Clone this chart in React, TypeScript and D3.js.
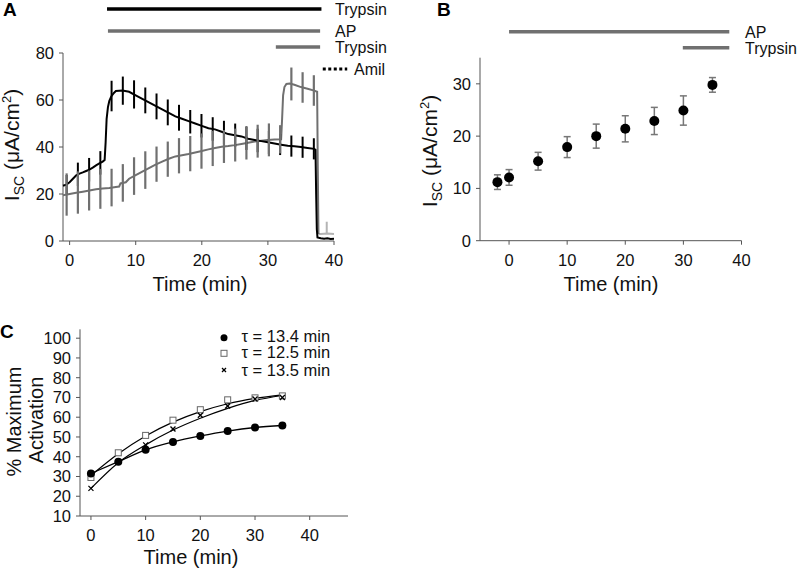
import React from 'react';
import * as d3 from 'd3';

const FONT = "'Liberation Sans', Arial, Helvetica, sans-serif";
const BLACK = '#000';
const GRAY = '#707070';
const LIGHT = '#b4b4b4';
const AXIS = '#555';

// ---------- Panel A data ----------
const blackT = [-1, -0.5, 0, 0.5, 1, 1.5, 2, 2.5, 3, 3.5, 4, 4.5, 5, 5.3, 5.45, 5.6, 5.8, 6.0, 6.3, 6.7, 7,
  8, 9, 10, 11, 12, 13, 14, 15, 16, 17, 18, 19, 20, 21, 22, 23, 24, 25, 26, 27, 28, 29, 30, 31, 32, 33, 34, 35, 36, 37,
  37.2, 37.3, 37.4, 37.5, 38, 38.5, 39, 39.5, 40];
const blackV = [23.5, 24, 25, 26.5, 28, 28.7, 29.2, 29.8, 30.4, 31.2, 32.2, 33, 33.8, 34.5, 42, 52, 57, 59.5, 61.5, 63, 63.8,
  64, 63.5, 62, 60.5, 59, 57.5, 56, 54.5, 53, 52, 51, 50, 49, 48, 47.5, 46.5, 45.5, 45, 44.5, 43.5, 43, 42.5, 42, 41.5, 41, 40.5, 40.3, 40, 39.6, 39.2,
  38.8, 20, 5, 1.5, 1.2, 1, 1.2, 0.9, 1];

const grayT = [-1, 0, 1, 2, 3, 4, 5, 6, 7, 7.5, 7.7, 8.5, 9,
  10, 11, 12, 13, 14, 15, 16, 17, 18, 19, 20, 21, 22, 23, 24, 25, 26, 27, 28, 29, 30, 31, 32,
  32.15, 32.3, 32.5, 32.8, 33.3, 34, 35, 36, 37, 37.45, 37.55, 37.65];
const grayV = [19.5, 20, 20.5, 21, 21.5, 22, 22.3, 22.6, 23, 23.2, 24.5, 25, 26.5,
  28, 29.5, 31, 32.5, 33.8, 35, 36, 36.5, 37, 37.7, 38.3, 39, 39.6, 40.1, 40.4, 40.8, 41.3, 41.8, 42.3, 42.7, 43, 43.2, 43.3,
  52, 62, 65.5, 66.8, 67, 66.5, 65.5, 64.8, 64, 63.5, 30, 3];

const grayTailT = [37.65, 38, 39, 40];
const grayTailV = [3, 3, 3.2, 3];
const tailBarT = [38.9];
const tailBarLo = [3.4];
const tailBarHi = [8.2];

const barT = [-0.45, 1.25, 2.95, 4.65, 6.35, 8.05, 9.75, 11.45, 13.15, 14.85, 16.55, 18.25, 19.95, 21.65, 23.35,
  25.05, 26.75, 28.45, 30.15, 31.85, 33.55, 35.25, 36.95];
const blackErr = [4, 5, 5, 5, 6.5, 6, 6, 5.5, 5.5, 5.5, 5.5, 5, 5, 5, 5, 5, 5, 5, 5, 4.5, 4.5, 4.5, 4.5];
const grayErr = [9, 9, 8.5, 8.5, 8, 8, 8, 8, 7.5, 7.5, 7.5, 7.5, 7.5, 7.5, 7, 7, 7, 7, 7, 6, 7, 6.5, 6.5];

const annotALabels = ['Trypsin', 'AP', 'Trypsin', 'Amil'];
const annotAStart = [5.66, 5.8, 31.2, 38.3];
const annotAEnd = [38.1, 37.9, 37.9, 42.0];

const aXTicks = [0, 10, 20, 30, 40];
const aYTicks = [0, 20, 40, 60, 80];

// ---------- Panel B data ----------
const bTimes = [-2, 0, 5, 10, 15, 20, 25, 30, 35];
const bMeans = [11.2, 12.1, 15.2, 17.9, 20.0, 21.4, 22.9, 24.9, 29.8];
const bErrs = [1.4, 1.5, 1.7, 2.0, 2.3, 2.5, 2.6, 2.8, 1.4];
const annotBLabels = ['AP', 'Trypsin'];
const annotBStart = [0, 29.9];
const annotBEnd = [37.9, 37.9];
const bXTicks = [0, 10, 20, 30, 40];
const bYTicks = [0, 10, 20, 30];

// ---------- Panel C data ----------
const cTimes = [0, 5, 10, 15, 20, 25, 30, 35];
const cCircle = [31.5, 37.5, 43.5, 47.5, 50.5, 53, 54.8, 55.8];
const cSquare = [29.5, 42, 50.8, 58.5, 63.8, 68.8, 69.8, 70.8];
const cCross = [24, 37.5, 46, 54, 61, 65.7, 69.2, 70];
const cSquareFit = [30.5, 41.5, 50.5, 57.5, 62.8, 66.8, 69.5, 71.3];
const cCrossFit = [24, 37, 46, 53.5, 59.5, 64.5, 68.5, 71];
const cLegend = ['τ = 13.4 min', 'τ = 12.5 min', 'τ = 13.5 min'];
const cXTicks = [0, 10, 20, 30, 40];
const cYTicks = [10, 20, 30, 40, 50, 60, 70, 80, 90, 100];

// ---------- scales ----------
const xA = d3.scaleLinear().domain([-1, 40]).range([63, 334]);
const yA = d3.scaleLinear().domain([0, 80]).range([241, 53]);
const xB = d3.scaleLinear().domain([-5, 40]).range([480, 741.5]);
const yB = d3.scaleLinear().domain([0, 35]).range([240.7, 57.7]);
const xC = d3.scaleLinear().domain([-2, 47]).range([80, 348]);
const yC = d3.scaleLinear().domain([10, 104.5]).range([516, 329.3]);

function interp(ts: number[], vs: number[], t: number) {
  const i = d3.bisectRight(ts, t);
  if (i <= 0) return vs[0];
  if (i >= ts.length) return vs[vs.length - 1];
  const f = (t - ts[i - 1]) / (ts[i] - ts[i - 1]);
  return vs[i - 1] + f * (vs[i] - vs[i - 1]);
}

const tickFont = 16.5;

function YTitle({ x, y }: { x: number; y: number }) {
  return (
    <text transform={`translate(${x},${y}) rotate(-90)`} textAnchor="middle" fontSize={21} fill="#111">
      <tspan>I</tspan>
      <tspan fontSize={14} dy={5}>SC</tspan>
      <tspan dy={-5}> (μA/cm</tspan>
      <tspan fontSize={13} dy={-8}>2</tspan>
      <tspan dy={8}>)</tspan>
    </text>
  );
}

function Axes({ x, y, xTicks, yTicks, x0, x1, y0, y1 }: any) {
  return (
    <g>
      <line x1={x0} x2={x0} y1={y(y0)} y2={y(y1)} stroke={AXIS} strokeWidth={1} />
      <line x1={x0} x2={x1} y1={y(y0)} y2={y(y0)} stroke={AXIS} strokeWidth={1} />
      {yTicks.map((v: number) => (
        <g key={'y' + v}>
          <line x1={x0 - 4} x2={x0} y1={y(v)} y2={y(v)} stroke={AXIS} />
          <text x={x0 - 9} y={y(v) + 6} textAnchor="end" fontSize={tickFont} fill="#111">{v}</text>
        </g>
      ))}
      {xTicks.map((v: number) => (
        <g key={'x' + v}>
          <line x1={x(v)} x2={x(v)} y1={y(y0)} y2={y(y0) + 4} stroke={AXIS} />
          <text x={x(v)} y={y(y0) + 25} textAnchor="middle" fontSize={tickFont} fill="#111">{v}</text>
        </g>
      ))}
    </g>
  );
}

export default function App() {
  const lineA = (ts: number[], vs: number[]) =>
    d3.line<number>().x((_, i) => xA(ts[i])).y((v) => yA(v))(vs) as string;

  const annotAY = [9, 31, 47, 69];
  const annotAColor = [BLACK, GRAY, GRAY, BLACK];
  const annotBY = [31.7, 47.7];

  const cLine = (vs: number[]) =>
    d3.line<number>().x((_, i) => xC(cTimes[i])).y((v) => yC(v)).curve(d3.curveMonotoneX)(vs) as string;

  return (
    <svg width={800} height={570} style={{ position: 'absolute', left: 0, top: 0, background: '#fff' }}
      fontFamily={FONT}>
      <rect width={800} height={570} fill="#fff" />

      {/* ---------------- Panel A ---------------- */}
      <text x={3} y={16} fontSize={19} fontWeight="bold">A</text>
      {annotALabels.map((lab, i) => (
        <g key={'aa' + i}>
          <line x1={xA(annotAStart[i])} x2={xA(annotAEnd[i])} y1={annotAY[i]} y2={annotAY[i]}
            stroke={annotAColor[i]} strokeWidth={i === 3 ? 3 : 3.5}
            strokeDasharray={i === 3 ? '3,2.5' : undefined} />
          <text x={i === 3 ? 354 : 335} y={annotAY[i] + 6} fontSize={16} fill="#111">{lab}</text>
        </g>
      ))}
      <Axes x={xA} y={yA} xTicks={aXTicks} yTicks={aYTicks} x0={63} x1={334} y0={0} y1={80} />
      <YTitle x={19} y={145} />
      <text x={200} y={291} textAnchor="middle" fontSize={20} fill="#111">Time (min)</text>

      {/* traces */}
      <path d={lineA(grayTailT, grayTailV)} fill="none" stroke={LIGHT} strokeWidth={2} />
      {tailBarT.map((t, i) => (
        <line key={'tb' + i} x1={xA(t)} x2={xA(t)} y1={yA(tailBarLo[i])} y2={yA(tailBarHi[i])} stroke={LIGHT} strokeWidth={2} />
      ))}
      <path d={lineA(grayT, grayV)} fill="none" stroke={GRAY} strokeWidth={2} />
      <path d={lineA(blackT, blackV)} fill="none" stroke={BLACK} strokeWidth={2} />
      {barT.map((t, i) => {
        const c = interp(blackT, blackV, t);
        return <line key={'bb' + i} x1={xA(t)} x2={xA(t)} y1={yA(c - blackErr[i])} y2={yA(c + blackErr[i])}
          stroke={BLACK} strokeWidth={2} />;
      })}
      {barT.map((t, i) => {
        const c = interp(grayT, grayV, t);
        return <line key={'gb' + i} x1={xA(t)} x2={xA(t)} y1={yA(c - grayErr[i])} y2={yA(c + grayErr[i])}
          stroke={GRAY} strokeWidth={2.2} />;
      })}

      {/* ---------------- Panel B ---------------- */}
      <text x={437} y={16} fontSize={19} fontWeight="bold">B</text>
      {annotBLabels.map((lab, i) => (
        <g key={'ab' + i}>
          <line x1={xB(annotBStart[i])} x2={xB(annotBEnd[i])} y1={annotBY[i]} y2={annotBY[i]}
            stroke={GRAY} strokeWidth={3.5} />
          <text x={745} y={annotBY[i] + 6} fontSize={16} fill="#111">{lab}</text>
        </g>
      ))}
      <Axes x={xB} y={yB} xTicks={bXTicks} yTicks={bYTicks} x0={480} x1={741.5} y0={0} y1={35} />
      <YTitle x={437} y={151} />
      <text x={611} y={291} textAnchor="middle" fontSize={20} fill="#111">Time (min)</text>
      {bTimes.map((t, i) => (
        <g key={'bp' + i} stroke="#777" strokeWidth={1.5}>
          <line x1={xB(t)} x2={xB(t)} y1={yB(bMeans[i] - bErrs[i])} y2={yB(bMeans[i] + bErrs[i])} />
          <line x1={xB(t) - 3.5} x2={xB(t) + 3.5} y1={yB(bMeans[i] - bErrs[i])} y2={yB(bMeans[i] - bErrs[i])} />
          <line x1={xB(t) - 3.5} x2={xB(t) + 3.5} y1={yB(bMeans[i] + bErrs[i])} y2={yB(bMeans[i] + bErrs[i])} />
        </g>
      ))}
      {bTimes.map((t, i) => (
        <circle key={'bc' + i} cx={xB(t)} cy={yB(bMeans[i])} r={5} fill={BLACK} />
      ))}

      {/* ---------------- Panel C ---------------- */}
      <text x={0} y={338} fontSize={19} fontWeight="bold">C</text>
      <Axes x={xC} y={yC} xTicks={cXTicks} yTicks={cYTicks} x0={80} x1={348} y0={10} y1={104.5} />
      <text transform="translate(21,421.5) rotate(-90)" textAnchor="middle" fontSize={20} fill="#111">% Maximum</text>
      <text transform="translate(43,420) rotate(-90)" textAnchor="middle" fontSize={20} fill="#111">Activation</text>
      <text x={191} y={564} textAnchor="middle" fontSize={20} fill="#111">Time (min)</text>

      <path d={cLine(cSquareFit)} fill="none" stroke="#000" strokeWidth={1.2} />
      <path d={cLine(cCrossFit)} fill="none" stroke="#000" strokeWidth={1.2} />
      <path d={cLine(cCircle)} fill="none" stroke="#000" strokeWidth={1.3} />
      {cTimes.map((t, i) => (
        <rect key={'cs' + i} x={xC(t) - 3} y={yC(cSquare[i]) - 3} width={6} height={6} fill="#fff" stroke="#666" strokeWidth={1} />
      ))}
      {cTimes.map((t, i) => (
        <g key={'cx' + i} stroke="#000" strokeWidth={1.3}>
          <line x1={xC(t) - 2.5} x2={xC(t) + 2.5} y1={yC(cCross[i]) - 2.5} y2={yC(cCross[i]) + 2.5} />
          <line x1={xC(t) - 2.5} x2={xC(t) + 2.5} y1={yC(cCross[i]) + 2.5} y2={yC(cCross[i]) - 2.5} />
        </g>
      ))}
      {cTimes.map((t, i) => (
        <circle key={'cc' + i} cx={xC(t)} cy={yC(cCircle[i])} r={4} fill="#000" />
      ))}

      {/* legend */}
      <circle cx={224} cy={337.7} r={3.5} fill="#000" />
      <rect x={221} y={350.3} width={6} height={6} fill="#fff" stroke="#666" />
      <g stroke="#000" strokeWidth={1.3}>
        <line x1={222} x2={226} y1={368} y2={372} />
        <line x1={222} x2={226} y1={372} y2={368} />
      </g>
      {cLegend.map((s, i) => (
        <text key={'lg' + i} x={241.5} y={[341.5, 358, 375.5][i]} fontSize={16.5} fill="#111">{s}</text>
      ))}
    </svg>
  );
}
